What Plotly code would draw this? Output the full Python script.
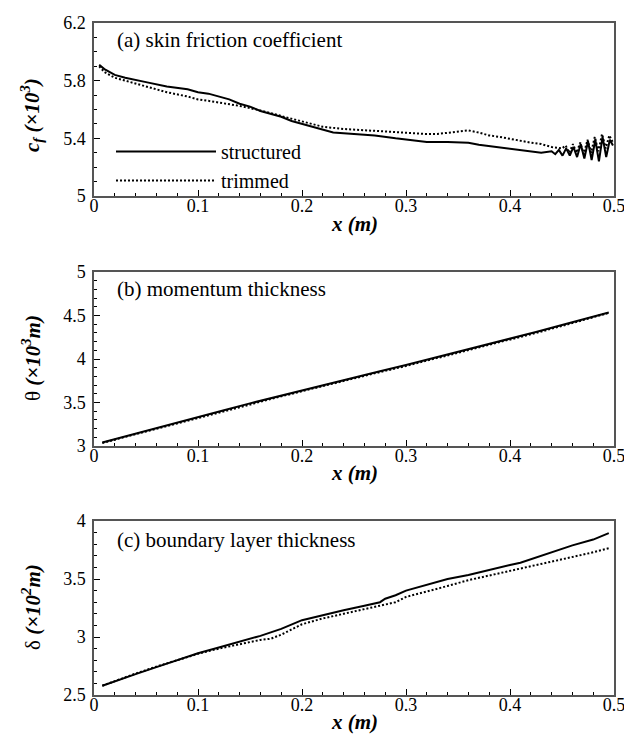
import plotly.graph_objects as go

# ---------------- data ----------------
# (a) skin friction coefficient  c_f (x10^3)
xa_s = [0.005, 0.01, 0.02, 0.03, 0.05, 0.07, 0.09, 0.1, 0.11, 0.12, 0.13, 0.14, 0.15, 0.16,
        0.17, 0.18, 0.19, 0.2, 0.21, 0.22, 0.23, 0.25, 0.27, 0.29, 0.31, 0.32, 0.34, 0.355,
        0.36, 0.37, 0.38, 0.39, 0.40, 0.41, 0.42, 0.43, 0.44, 0.4435, 0.447, 0.4505, 0.454,
        0.4575, 0.461, 0.4645, 0.468, 0.4715, 0.475, 0.4785, 0.482, 0.4855, 0.489, 0.4925,
        0.496, 0.499]
ya_s = [5.91, 5.88, 5.84, 5.82, 5.79, 5.76, 5.74, 5.72, 5.71, 5.69, 5.67, 5.64, 5.62, 5.59,
        5.57, 5.55, 5.52, 5.50, 5.48, 5.455, 5.44, 5.43, 5.42, 5.40, 5.385, 5.375, 5.375, 5.375,
        5.37, 5.355, 5.345, 5.335, 5.325, 5.32, 5.31, 5.30, 5.31, 5.29, 5.32, 5.28, 5.33,
        5.28, 5.34, 5.27, 5.36, 5.26, 5.38, 5.25, 5.39, 5.24, 5.41, 5.27, 5.39, 5.35]

xa_t = [0.005, 0.01, 0.02, 0.03, 0.05, 0.07, 0.09, 0.1, 0.11, 0.12, 0.13, 0.14, 0.15, 0.16,
        0.17, 0.18, 0.19, 0.2, 0.22, 0.24, 0.26, 0.28, 0.3, 0.32, 0.33, 0.34, 0.35, 0.36,
        0.37, 0.38, 0.39, 0.40, 0.41, 0.42, 0.43, 0.44, 0.45, 0.4535, 0.457, 0.4605, 0.464,
        0.4675, 0.471, 0.4745, 0.478, 0.4815, 0.485, 0.4885, 0.492, 0.4955, 0.499]
ya_t = [5.90, 5.86, 5.82, 5.80, 5.76, 5.72, 5.69, 5.67, 5.66, 5.65, 5.64, 5.625, 5.61, 5.595,
        5.575, 5.555, 5.535, 5.515, 5.48, 5.465, 5.455, 5.445, 5.435, 5.43, 5.43, 5.44, 5.45,
        5.455, 5.44, 5.42, 5.41, 5.395, 5.38, 5.37, 5.36, 5.34, 5.33, 5.35, 5.30, 5.36, 5.30,
        5.37, 5.29, 5.39, 5.30, 5.41, 5.31, 5.43, 5.33, 5.42, 5.37]

# (b) momentum thickness  theta (x10^3 m)
xb = [0.008, 0.025, 0.05, 0.075, 0.1, 0.125, 0.15, 0.175, 0.2, 0.225, 0.25, 0.275, 0.3,
      0.325, 0.35, 0.375, 0.4, 0.425, 0.45, 0.475, 0.495]
yb_s = [3.04, 3.095, 3.175, 3.255, 3.33, 3.41, 3.49, 3.565, 3.64, 3.715, 3.79, 3.86, 3.93,
        4.005, 4.08, 4.155, 4.23, 4.31, 4.39, 4.47, 4.535]
yb_t = [3.035, 3.09, 3.165, 3.245, 3.32, 3.40, 3.48, 3.555, 3.63, 3.705, 3.78, 3.85, 3.92,
        3.995, 4.07, 4.145, 4.22, 4.30, 4.38, 4.46, 4.53]

# (c) boundary layer thickness  delta (x10^2 m)
xc = [0.008, 0.02, 0.04, 0.06, 0.08, 0.1, 0.12, 0.14, 0.15, 0.16, 0.17, 0.18, 0.2, 0.22,
      0.24, 0.26, 0.27, 0.275, 0.28, 0.29, 0.3, 0.32, 0.34, 0.36, 0.38, 0.4, 0.41, 0.42,
      0.44, 0.46, 0.48, 0.495]
yc_s = [2.58, 2.62, 2.68, 2.74, 2.80, 2.86, 2.91, 2.96, 2.98, 3.01, 3.04, 3.07, 3.145, 3.19,
        3.23, 3.27, 3.29, 3.30, 3.33, 3.36, 3.40, 3.45, 3.50, 3.535, 3.58, 3.62, 3.64, 3.67,
        3.73, 3.79, 3.84, 3.895]
yc_t = [2.58, 2.62, 2.685, 2.745, 2.80, 2.855, 2.90, 2.94, 2.96, 2.975, 2.985, 3.02, 3.11,
        3.16, 3.20, 3.24, 3.255, 3.265, 3.275, 3.30, 3.345, 3.39, 3.44, 3.49, 3.53, 3.565,
        3.585, 3.61, 3.65, 3.69, 3.73, 3.765]

x_ticks = [0, 0.1, 0.2, 0.3, 0.4, 0.5]
x_ticktext = ["0", "0.1", "0.2", "0.3", "0.4", "0.5"]
labels = ["(a) skin friction coefficient", "(b) momentum thickness", "(c) boundary layer thickness"]
series_names = ["structured", "trimmed"]

# ---------------- figure ----------------
W, H = 624, 738
FONT = "Times New Roman, Liberation Serif, DejaVu Serif, serif"
solid = dict(color="black", width=2)
dotted = dict(color="black", width=2, dash="2px,2px")

fig = go.Figure()
fig.add_trace(go.Scatter(x=xa_s, y=ya_s, mode="lines", line=solid, name=series_names[0],
                         xaxis="x", yaxis="y", showlegend=True))
fig.add_trace(go.Scatter(x=xa_t, y=ya_t, mode="lines", line=dotted, name=series_names[1],
                         xaxis="x", yaxis="y", showlegend=True))
fig.add_trace(go.Scatter(x=xb, y=yb_t, mode="lines", line=dotted, xaxis="x2", yaxis="y2", showlegend=False))
fig.add_trace(go.Scatter(x=xb, y=yb_s, mode="lines", line=solid, xaxis="x2", yaxis="y2", showlegend=False))
fig.add_trace(go.Scatter(x=xc, y=yc_s, mode="lines", line=solid, xaxis="x3", yaxis="y3", showlegend=False))
fig.add_trace(go.Scatter(x=xc, y=yc_t, mode="lines", line=dotted, xaxis="x3", yaxis="y3", showlegend=False))

xdom = [94 / W, 614 / W]
panels = [(23, 196), (272, 446), (521, 695)]
yranges = [(5, 6.2, 0.4, 0.1), (3, 5, 0.5, 0.1), (2.5, 4, 0.5, 0.1)]

def ax_common():
    return dict(showline=True, linecolor="#555555", linewidth=1.5, mirror=True,
                ticks="inside", ticklen=6, tickwidth=1, tickcolor="black",
                showgrid=False, zeroline=False, ticklabeloverflow="allow", automargin=False,
                tickfont=dict(family=FONT, size=18, color="black"))

layout = dict(width=W, height=H, margin=dict(l=0, r=0, t=0, b=0, autoexpand=False),
              paper_bgcolor="white", plot_bgcolor="white", showlegend=True,
              font=dict(family=FONT, color="black"))
for i, ((top, bot), (y0, y1, dt, mdt)) in enumerate(zip(panels, yranges)):
    sfx = "" if i == 0 else str(i + 1)
    xa = ax_common()
    xa.update(domain=xdom, range=[0, 0.5], tickmode="array", tickvals=x_ticks,
              ticktext=x_ticktext, ticklabelstandoff=-7,
              minor=dict(ticks="inside", ticklen=3, tickcolor="black", dtick=0.02, tick0=0),
              anchor="y" + sfx)
    ya = ax_common()
    ya.update(domain=[1 - bot / H, 1 - top / H], range=[y0, y1], tick0=y0, dtick=dt,
              ticklabelstandoff=3,
              minor=dict(ticks="inside", ticklen=3, tickcolor="black", dtick=mdt, tick0=y0),
              anchor="x" + sfx)
    layout["xaxis" + sfx] = xa
    layout["yaxis" + sfx] = ya

fig.update_layout(**layout)

ann = []
ytitles = ["<b><i>c<sub>f</sub> (×10<sup>3</sup>)</i></b>",
           "θ <b><i>(×10<sup>3</sup>m)</i></b>",
           "δ <b><i>(×10<sup>2</sup>m)</i></b>"]
ycenters = [115, 358, 607]
xtitle_y = [224, 473, 722]
label_y = [40, 289, 540]
for i in range(3):
    ann.append(dict(text=ytitles[i], x=31 / W, y=1 - ycenters[i] / H, xref="paper", yref="paper",
                    textangle=-90, showarrow=False, font=dict(family=FONT, size=21, color="black"),
                    xanchor="center", yanchor="middle"))
    ann.append(dict(text="<b><i>x (m)</i></b>", x=354 / W, y=1 - xtitle_y[i] / H, xref="paper",
                    yref="paper", showarrow=False, font=dict(family=FONT, size=21, color="black"),
                    xanchor="center", yanchor="middle"))
    ann.append(dict(text=labels[i], x=115 / W, y=1 - label_y[i] / H, xref="paper", yref="paper",
                    showarrow=False, font=dict(family=FONT, size=21, color="black"),
                    xanchor="left", yanchor="middle"))
fig.update_layout(annotations=ann,
                  legend=dict(x=111 / W, y=1 - 132 / H, xanchor="left", yanchor="top",
                              bgcolor="rgba(0,0,0,0)", itemwidth=100,
                              font=dict(family=FONT, size=20, color="black"),
                              tracegroupgap=0))

fig.write_html("out.html")
